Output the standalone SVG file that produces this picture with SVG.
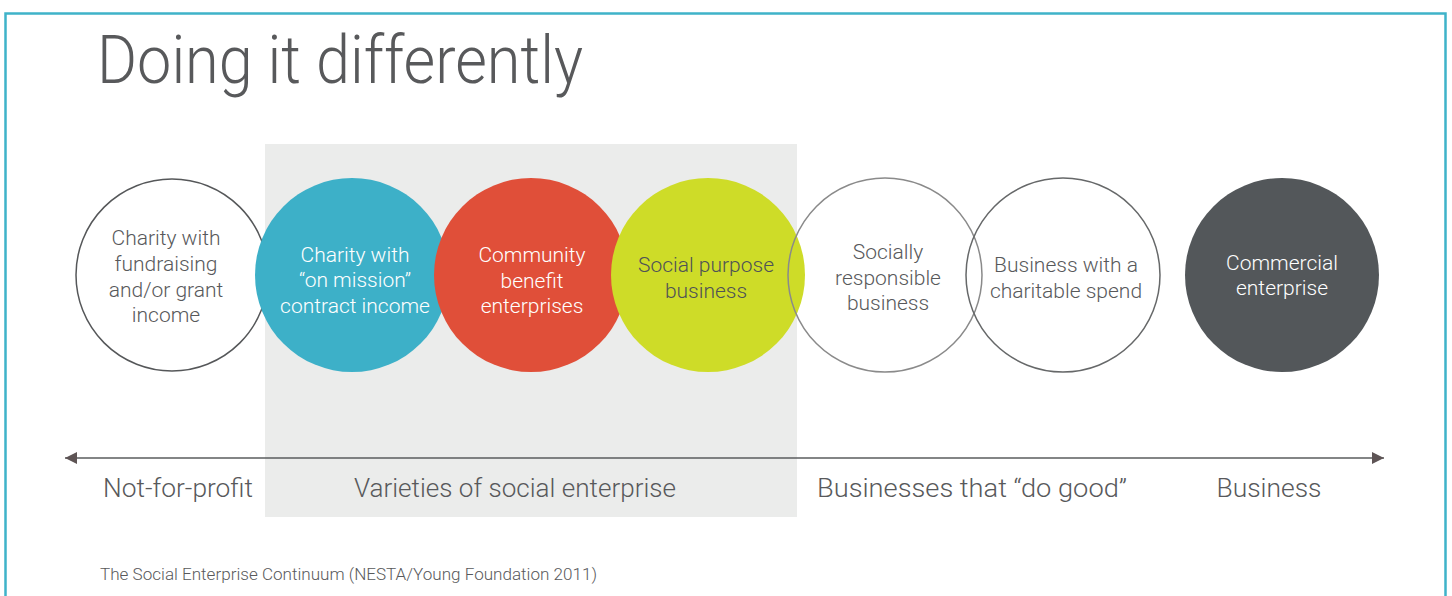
<svg xmlns="http://www.w3.org/2000/svg" width="1452" height="596" viewBox="0 0 1452 596">
<defs>
<style>
.t{font-family:Roboto,"Liberation Sans",Arial,sans-serif;font-weight:300;text-anchor:middle}
.c{font-size:21px}
.dark{fill:#58595b}
.wh{fill:#ffffff}
.lab{font-size:26px;fill:#58595b}
</style>
<marker id="ah" viewBox="0 0 12 12" refX="12" refY="6" markerWidth="12" markerHeight="12" markerUnits="userSpaceOnUse" orient="auto-start-reverse">
<path d="M0,0 L12,6 L0,12 Z" fill="#5e5455"/>
</marker>
</defs>
<rect x="0" y="0" width="1452" height="596" fill="#ffffff"/>
<path d="M5.5,600 L5.5,13.5 L1445.5,13.5 L1445.5,600" fill="none" stroke="#3fb3c9" stroke-width="2.5"/>
<text x="97" y="83" style="font-family:Roboto,'Liberation Sans',Arial,sans-serif;font-weight:300;font-size:66px" fill="#58595b" textLength="486" lengthAdjust="spacingAndGlyphs">Doing it differently</text>
<g id="n1"><circle cx="172" cy="275" r="96" fill="#ffffff" stroke="#555759" stroke-width="1.5"/>
<text class="t c dark"><tspan x="166" y="245">Charity with</tspan><tspan x="166" y="271">fundraising</tspan><tspan x="166" y="297">and/or grant</tspan><tspan x="166" y="322">income</tspan></text></g>
<rect id="band" x="265" y="144" width="532" height="373" fill="#ebeceb"/>
<g id="n2"><circle cx="352" cy="275" r="97" fill="#3db0c8"/>
<text class="t c wh"><tspan x="355" y="262">Charity with</tspan><tspan x="355" y="287">“on mission”</tspan><tspan x="355" y="313">contract income</tspan></text></g>
<g id="n3"><circle cx="531" cy="275" r="97" fill="#e04f39"/>
<text class="t c wh"><tspan x="532" y="262">Community</tspan><tspan x="532" y="288">benefit</tspan><tspan x="532" y="313">enterprises</tspan></text></g>
<g id="n4"><circle cx="708" cy="275" r="97" fill="#cedc28"/>
<text class="t c" fill="#4f5256"><tspan x="706" y="272">Social purpose</tspan><tspan x="706" y="298">business</tspan></text></g>
<g id="n5"><circle cx="885" cy="275" r="97" fill="none" stroke="#8a8a8a" stroke-width="1.5"/>
<text class="t c dark"><tspan x="888" y="259">Socially</tspan><tspan x="888" y="285">responsible</tspan><tspan x="888" y="310">business</tspan></text></g>
<g id="n6"><circle cx="1063" cy="275" r="97" fill="none" stroke="#666869" stroke-width="1.5"/>
<text class="t c dark"><tspan x="1066" y="272">Business with a</tspan><tspan x="1066" y="298">charitable spend</tspan></text></g>
<g id="n7"><circle cx="1282" cy="275" r="97" fill="#53575a"/>
<text class="t c wh"><tspan x="1282" y="270">Commercial</tspan><tspan x="1282" y="295">enterprise</tspan></text></g>
<g id="connectors">
<line x1="65" y1="458" x2="1384" y2="458" stroke="#5a5c5e" stroke-width="1.5" marker-start="url(#ah)" marker-end="url(#ah)"/>
</g>
<g id="labels">
<text class="t lab" x="178" y="497" textLength="150" lengthAdjust="spacingAndGlyphs">Not-for-profit</text>
<text class="t lab" x="515" y="497" textLength="322" lengthAdjust="spacingAndGlyphs">Varieties of social enterprise</text>
<text class="t lab" x="972" y="497" textLength="310" lengthAdjust="spacingAndGlyphs">Businesses that “do good”</text>
<text class="t lab" x="1269" y="497" textLength="105" lengthAdjust="spacingAndGlyphs">Business</text>
</g>
<text x="100" y="580" style="font-family:Roboto,'Liberation Sans',Arial,sans-serif;font-weight:300;font-size:16px" fill="#58595b" textLength="497" lengthAdjust="spacingAndGlyphs">The Social Enterprise Continuum (NESTA/Young Foundation 2011)</text>
</svg>
